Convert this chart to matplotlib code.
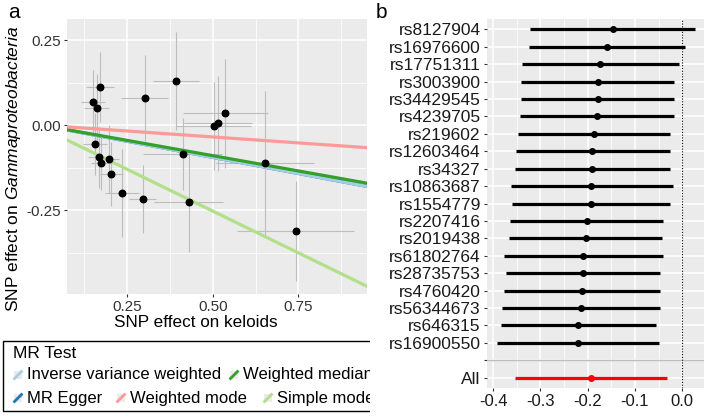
import matplotlib
matplotlib.use('Agg')
from matplotlib import pyplot as plt
from matplotlib.lines import Line2D
from matplotlib.patches import Rectangle
from matplotlib.ticker import MultipleLocator
from matplotlib.transforms import Bbox, TransformedBbox

plt.rcParams['font.family'] = ['Liberation Sans', 'DejaVu Sans']
plt.rcParams['mathtext.fontset'] = 'custom'
plt.rcParams['mathtext.rm'] = 'Liberation Sans'
plt.rcParams['mathtext.it'] = 'Liberation Sans:italic'

# ---- panel a: scatter of SNP effects ----
snp_x = [0.152, 0.171, 0.162, 0.302, 0.394, 0.503, 0.515, 0.537, 0.157, 0.167,
         0.174, 0.197, 0.203, 0.412, 0.653, 0.236, 0.296, 0.430, 0.742]
snp_y = [0.068, 0.112, 0.049, 0.080, 0.130, -0.002, 0.005, 0.034, -0.056, -0.095,
         -0.112, -0.099, -0.144, -0.085, -0.112, -0.199, -0.218, -0.227, -0.312]
se_x = [0.035, 0.040, 0.036, 0.069, 0.067, 0.110, 0.100, 0.124, 0.034, 0.030,
        0.030, 0.030, 0.036, 0.115, 0.143, 0.050, 0.039, 0.100, 0.170]
se_y = [0.094, 0.104, 0.100, 0.127, 0.145, 0.130, 0.140, 0.160, 0.090, 0.090,
        0.080, 0.100, 0.093, 0.105, 0.213, 0.130, 0.100, 0.146, 0.148]

methods = ['Inverse variance weighted', 'MR Egger', 'Weighted median',
           'Weighted mode', 'Simple mode']
intercepts = [0.0, 0.0, 0.0, 0.0, -0.007]
slopes = [-0.190, -0.190, -0.180, -0.070, -0.492]
colors = ['#A6CEE3', '#1F78B4', '#33A02C', '#FB9A99', '#B2DF8A']
draw_order = [1, 0, 2, 4, 3]

# ---- panel b: forest plot ----
snps = ['rs8127904', 'rs16976600', 'rs17751311', 'rs3003900', 'rs34429545',
        'rs4239705', 'rs219602', 'rs12603464', 'rs34327', 'rs10863687',
        'rs1554779', 'rs2207416', 'rs2019438', 'rs61802764', 'rs28735753',
        'rs4760420', 'rs56344673', 'rs646315', 'rs16900550']
b_est = [-0.147, -0.159, -0.173, -0.179, -0.179, -0.181, -0.187, -0.190, -0.190,
         -0.192, -0.194, -0.202, -0.204, -0.209, -0.210, -0.212, -0.214, -0.220, -0.221]
b_lo = [-0.322, -0.324, -0.338, -0.341, -0.342, -0.343, -0.348, -0.351, -0.353,
        -0.363, -0.361, -0.365, -0.367, -0.376, -0.372, -0.376, -0.381, -0.384, -0.392]
b_hi = [0.028, 0.006, -0.007, -0.017, -0.017, -0.017, -0.025, -0.026, -0.026,
        -0.020, -0.026, -0.041, -0.042, -0.041, -0.047, -0.047, -0.047, -0.056, -0.049]
all_est, all_lo, all_hi = -0.193, -0.353, -0.032

W, H = 709, 416
fig = plt.figure(figsize=(W / 100, H / 100), dpi=100)


def box(x0, y0, x1, y1):
    return [x0 / W, 1 - y1 / H, (x1 - x0) / W, (y1 - y0) / H]


def fx(px):
    return px / W


def fy(py):
    return 1 - py / H


bg = '#EBEBEB'
tick_col = '#333333'

# panel a
ax = fig.add_axes(box(67, 19, 367, 294))
ax.set_facecolor(bg)
for s in ax.spines.values():
    s.set_visible(False)
ax.set_xlim(0.075, 0.95)
ax.set_ylim(-0.497, 0.312)
ax.xaxis.set_major_locator(MultipleLocator(0.25))
ax.xaxis.set_minor_locator(MultipleLocator(0.125))
ax.yaxis.set_major_locator(MultipleLocator(0.25))
ax.yaxis.set_minor_locator(MultipleLocator(0.125))
ax.grid(which='major', color='white', lw=1.1)
ax.grid(which='minor', color='white', lw=0.55)
ax.set_axisbelow(True)
ax.tick_params(which='minor', length=0)
ax.tick_params(which='major', length=2.5, color='#333333', labelsize=11,
               labelcolor=tick_col, pad=2)
ax.yaxis.set_major_formatter(plt.FuncFormatter(lambda v, p: '%.2f' % v))

ax.errorbar(snp_x, snp_y, xerr=se_x, yerr=se_y, fmt='none',
            ecolor='#BDBDBD', elinewidth=0.8, capsize=0, zorder=2)
for i in draw_order:
    ax.axline((0, intercepts[i]), slope=slopes[i], color=colors[i], lw=2.3, zorder=3)
ax.scatter(snp_x, snp_y, s=22, color='black', zorder=4)

ax.set_xlabel('SNP effect on keloids', fontsize=12.3)
ax.xaxis.set_label_coords(0.43, -0.075)
ax.set_ylabel(r'SNP effect on $\mathit{Gammaproteobacteria}$', fontsize=12.5)
ax.yaxis.set_label_coords(-0.145, 0.455)

# legend, laid out in rows like the reference; its right side is hidden at x=370
clip = TransformedBbox(Bbox([[0, 0], [370 / W, 1]]), fig.transFigure)
frame = Rectangle((fx(3), fy(411)), fx(400), 70 / H, transform=fig.transFigure,
                  facecolor='white', edgecolor='black', lw=1.0)
frame.set_clip_box(clip)
fig.patches.append(frame)
fig.text(fx(13), fy(353), 'MR Test', fontsize=12.5, ha='left', va='center')
leg_pos = [(27, 375), (27, 398), (243, 375), (130, 398), (277, 398)]
for i, (tx, ty) in enumerate(leg_pos):
    kx = tx - 9
    key = Rectangle((fx(kx - 4), fy(ty + 4)), 8 / W, 8 / H,
                    transform=fig.transFigure, facecolor=bg, edgecolor='none')
    fig.patches.append(key)
    fig.lines.append(Line2D([fx(kx - 3.5), fx(kx + 3.5)], [fy(ty + 3.5), fy(ty - 3.5)],
                            transform=fig.transFigure, color=colors[i], lw=2))
    t = fig.text(fx(tx), fy(ty), methods[i], fontsize=12, ha='left', va='center')
    t.set_clip_box(clip)
    t.set_clip_on(True)

# panel b
bx = fig.add_axes(box(487, 19, 704, 388))
bx.set_facecolor(bg)
for s in bx.spines.values():
    s.set_visible(False)
n = len(snps)
ypos = [n + 2 - i for i in range(n)]
bx.set_xlim(-0.413, 0.046)
bx.set_ylim(0.4, n + 2.6)
bx.xaxis.set_major_locator(MultipleLocator(0.1))
bx.xaxis.set_minor_locator(MultipleLocator(0.05))
bx.set_yticks([1, 2] + ypos)
bx.set_yticklabels(['All', ''] + snps)
bx.grid(which='major', color='white', lw=1.1)
bx.grid(which='minor', axis='x', color='white', lw=0.55)
bx.set_axisbelow(True)
bx.tick_params(which='minor', length=0)
bx.tick_params(axis='y', which='major', length=2.5, color='#333333',
               labelsize=12.5, labelcolor='#1a1a1a', pad=2)
bx.tick_params(axis='x', which='major', length=2.5, color='#333333',
               labelsize=12, labelcolor='#1a1a1a', pad=2)
bx.xaxis.set_major_formatter(plt.FuncFormatter(lambda v, p: '%.1f' % v))
for lab in bx.get_xticklabels():
    lab.set_family(['Liberation Sans Narrow', 'Liberation Sans'])

bx.axvline(0, color='black', lw=0.8, ls=(0, (1, 1.5)), zorder=2)
bx.axhline(2, color='#BEBEBE', lw=1.0, zorder=1)
bx.hlines(ypos, b_lo, b_hi, color='black', lw=2.3, zorder=3)
bx.scatter(b_est, ypos, s=16, color='black', zorder=4)
bx.hlines([1], [all_lo], [all_hi], color='#FF0000', lw=2.3, zorder=3)
bx.scatter([all_est], [1], s=16, color='#FF0000', zorder=4)

fig.text(8 / W, 1 - 12 / H, 'a', fontsize=15, ha='left', va='center')
fig.text(376 / W, 1 - 13 / H, 'b', fontsize=15, ha='left', va='center')

fig.savefig('out.png', dpi=100)
